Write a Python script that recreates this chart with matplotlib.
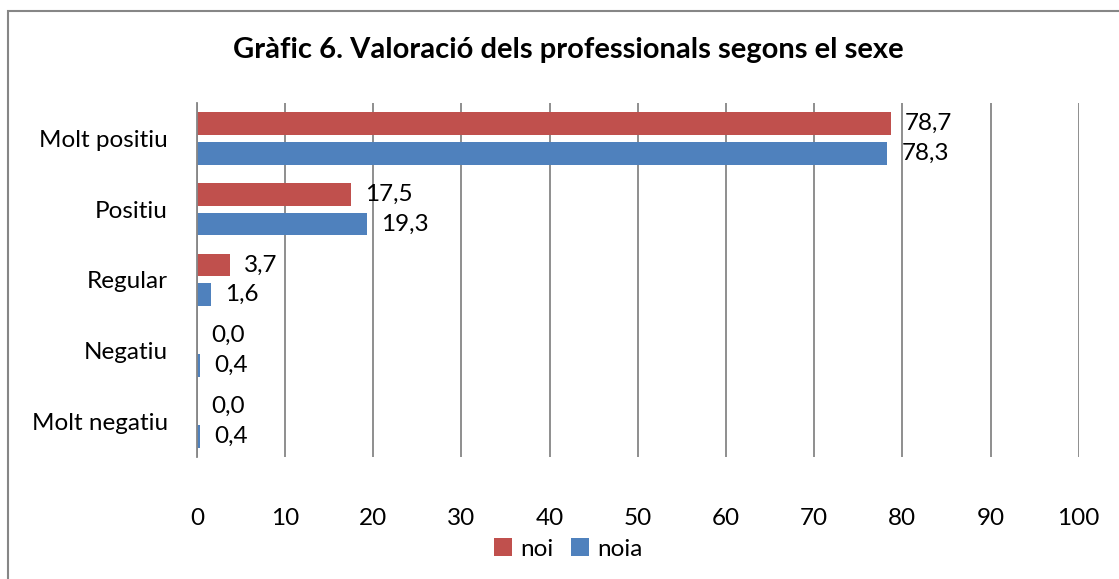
import numpy as np
import matplotlib.pyplot as plt
from matplotlib.patches import Rectangle

categories = ['Molt positiu', 'Positiu', 'Regular', 'Negatiu', 'Molt negatiu']
noi = [78.7, 17.5, 3.7, 0.0, 0.0]
noia = [78.3, 19.3, 1.6, 0.4, 0.4]
ticks = [0, 10, 20, 30, 40, 50, 60, 70, 80, 90, 100]

plt.rcParams['font.family'] = ['Lato', 'DejaVu Sans']
vermell = '#C0504D'
blau = '#4F81BD'
gris = '#868686'

fig = plt.figure(figsize=(11.19, 5.79), dpi=100)
ax = fig.add_axes([0.176, 0.211, 0.788, 0.611])

y = np.arange(len(categories))
h = 0.32
off = 0.21
ax.barh(y - off, noi, height=h, color=vermell, label='noi')
ax.barh(y + off, noia, height=h, color=blau, label='noia')

# etiquetes de valor
for i in range(len(categories)):
    ax.annotate(f'{noi[i]:.1f}'.replace('.', ','), (noi[i], y[i] - off), xytext=(10, 0),
                textcoords='offset points', va='center', ha='left', fontsize=17.5)
    ax.annotate(f'{noia[i]:.1f}'.replace('.', ','), (noia[i], y[i] + off), xytext=(10, 0),
                textcoords='offset points', va='center', ha='left', fontsize=17.5)

ax.set_ylim(len(categories) - 0.5, -0.5)
ax.set_xlim(0, 100)
ax.set_xticks(ticks)
ax.set_yticks(y)
ax.set_yticklabels(categories, fontsize=17.5)
ax.tick_params(axis='x', labelsize=17.5, length=0, pad=37)
ax.tick_params(axis='y', length=0, pad=21)
ax.grid(axis='x', color=gris, linewidth=1.3)
ax.set_axisbelow(True)
for s in ['top', 'right', 'bottom']:
    ax.spines[s].set_visible(False)
ax.spines['left'].set_color(gris)
ax.spines['left'].set_linewidth(1.3)

fig.text(0.508, 0.913, 'Gràfic 6. Valoració dels professionals segons el sexe',
         ha='center', va='center', fontsize=21, fontweight='bold')

fig.legend(loc='center', bbox_to_anchor=(0.508, 0.052), ncol=2, frameon=False,
           fontsize=17.5, handlelength=0.75, handleheight=0.75, handletextpad=0.35,
           columnspacing=0.7)

# marc del gràfic
fig.patches.append(Rectangle((8 / 1119, -0.1), 1.2, 1 - 11 / 579 + 0.1,
                             transform=fig.transFigure, fill=False,
                             edgecolor=gris, linewidth=1.5))

fig.savefig('out.png', dpi=100)
